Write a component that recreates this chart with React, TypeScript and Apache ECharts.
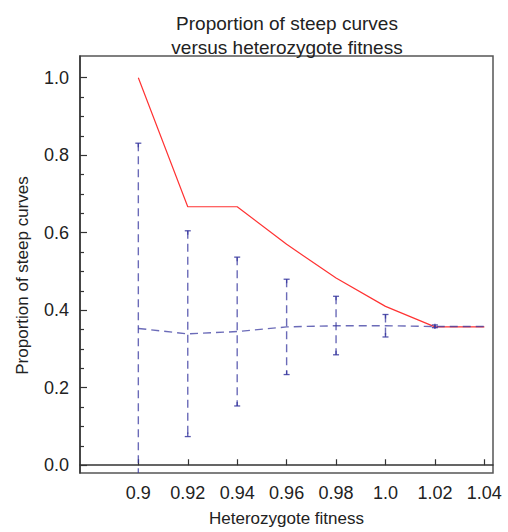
import React, { useEffect, useRef } from "react";
import * as echarts from "echarts";

const fitness = [0.9, 0.92, 0.94, 0.96, 0.98, 1.0, 1.02, 1.04];
const steepMax = [1.0, 0.667, 0.667, 0.57, 0.483, 0.41, 0.357, 0.357];
const steepMean = [0.353, 0.339, 0.345, 0.357, 0.36, 0.36, 0.358, 0.358];
const errLow = [-0.125, 0.074, 0.153, 0.234, 0.285, 0.331, 0.355];
const errHigh = [0.831, 0.605, 0.537, 0.48, 0.436, 0.389, 0.362];
const xTicks = [0.9, 0.92, 0.94, 0.96, 0.98, 1.0, 1.02, 1.04];
const xTickLabels = ["0.9", "0.92", "0.94", "0.96", "0.98", "1.0", "1.02", "1.04"];
const yTicks = [0, 0.2, 0.4, 0.6, 0.8, 1.0];
const yTickLabels = ["0.0", "0.2", "0.4", "0.6", "0.8", "1.0"];
const yMinorTicks = [0.05, 0.1, 0.15, 0.25, 0.3, 0.35, 0.45, 0.5, 0.55, 0.65, 0.7, 0.75, 0.85, 0.9, 0.95];

const FONT = "Liberation Sans";
const BLUE = "#3a3aa0";
const RED = "#ff3333";

export default function App() {
  const ref = useRef<HTMLDivElement>(null);
  useEffect(() => {
    if (!ref.current) return;
    const chart = echarts.init(ref.current, undefined, { renderer: "svg" });
    const xLabel = (v: number) => {
      const i = xTicks.findIndex((t) => Math.abs(t - v) < 1e-6);
      return i >= 0 ? xTickLabels[i] : "";
    };
    const yLabel = (v: number) => {
      const i = yTicks.findIndex((t) => Math.abs(t - v) < 1e-6);
      return i >= 0 ? yTickLabels[i] : "";
    };
    chart.setOption({
      animation: false,
      backgroundColor: "#ffffff",
      grid: {
        left: 80,
        right: 15,
        top: 56,
        bottom: 54,
        show: true,
        borderColor: "#555",
        borderWidth: 1.5,
        backgroundColor: "transparent",
      },
      graphic: [
        {
          type: "text",
          x: 287,
          y: 11,
          style: {
            text: "Proportion of steep curves\nversus heterozygote fitness",
            fontSize: 19,
            lineHeight: 24,
            fontFamily: FONT,
            fill: "#222",
            align: "center",
            verticalAlign: "top",
          },
        },
        {
          type: "text",
          x: 22,
          y: 275.5,
          rotation: Math.PI / 2,
          style: {
            text: "Proportion of steep curves",
            fontSize: 17,
            fontFamily: FONT,
            fill: "#222",
            align: "center",
            verticalAlign: "middle",
          },
        },
      ],
      xAxis: {
        type: "value",
        min: 0.8764,
        max: 1.0435,
        name: "Heterozygote fitness",
        nameLocation: "middle",
        nameGap: 37,
        nameTextStyle: { fontSize: 17, fontFamily: FONT, color: "#222" },
        axisLine: { show: true, lineStyle: { color: "#333", width: 1.5 } },
        axisTick: {
          show: true,
          inside: true,
          length: 6,
          customValues: xTicks,
          lineStyle: { color: "#333", width: 1.2 },
        },
        axisLabel: {
          customValues: xTicks,
          formatter: xLabel,
          fontSize: 18,
          fontFamily: FONT,
          color: "#222",
          margin: 11,
        },
        splitLine: { show: false },
      },
      yAxis: [
        {
          type: "value",
          min: -0.02,
          max: 1.056,
          axisLine: { show: true, lineStyle: { color: "#333", width: 1.5 } },
          axisTick: {
            show: true,
            inside: true,
            length: 7,
            customValues: yTicks,
            lineStyle: { color: "#333", width: 1.2 },
          },
          axisLabel: {
            customValues: yTicks,
            formatter: yLabel,
            fontSize: 18,
            fontFamily: FONT,
            color: "#222",
            margin: 11,
          },
          splitLine: { show: false },
        },
        {
          type: "value",
          min: -0.02,
          max: 1.056,
          position: "left",
          axisLine: { show: false },
          axisTick: {
            show: true,
            inside: true,
            length: 4,
            customValues: yMinorTicks,
            lineStyle: { color: "#333", width: 1.2 },
          },
          axisLabel: { show: false },
          splitLine: { show: false },
        },
      ],
      series: [
        {
          type: "line",
          data: fitness.map((x, i) => [x, steepMax[i]]),
          symbol: "none",
          lineStyle: { color: RED, width: 1.2 },
          z: 2,
        },
        {
          type: "line",
          data: fitness.map((x, i) => [x, steepMean[i]]),
          symbol: "none",
          lineStyle: { color: BLUE, width: 1.4, type: [8, 5], opacity: 0.75 },
          z: 3,
        },
        {
          type: "custom",
          data: errLow.map((lo, i) => [fitness[i], lo, errHigh[i]]),
          encode: { x: 0, y: [1, 2] },
          z: 4,
          renderItem: (params: any, api: any) => {
            const x = api.value(0);
            const lo = api.value(1);
            const hi = api.value(2);
            const pTop = api.coord([x, hi]);
            const pBot = api.coord([x, lo]);
            const cs = params.coordSys;
            const bottomEdge = cs.y + cs.height;
            const clippedBottom = pBot[1] > bottomEdge;
            const yb = clippedBottom ? bottomEdge : pBot[1];
            const px = pTop[0];
            const w = 3;
            const children: any[] = [
              {
                type: "line",
                shape: { x1: px, y1: pTop[1], x2: px, y2: yb },
                style: { stroke: BLUE, lineWidth: 1.4, lineDash: [8, 5], opacity: 0.75 },
              },
              {
                type: "line",
                shape: { x1: px - w, y1: pTop[1], x2: px + w, y2: pTop[1] },
                style: { stroke: BLUE, lineWidth: 1.3, opacity: 0.85 },
              },
              {
                type: "line",
                shape: { x1: px, y1: pTop[1], x2: px, y2: pTop[1] + 4 },
                style: { stroke: BLUE, lineWidth: 1.3, opacity: 0.85 },
              },
            ];
            if (!clippedBottom) {
              children.push({
                type: "line",
                shape: { x1: px - w, y1: yb, x2: px + w, y2: yb },
                style: { stroke: BLUE, lineWidth: 1.3, opacity: 0.85 },
              });
              children.push({
                type: "line",
                shape: { x1: px, y1: yb, x2: px, y2: yb - 4 },
                style: { stroke: BLUE, lineWidth: 1.3, opacity: 0.85 },
              });
            }
            return { type: "group", children };
          },
        },
      ],
    });
    return () => chart.dispose();
  }, []);
  return (
    <div
      ref={ref}
      style={{ position: "fixed", left: 0, top: 0, width: 508, height: 532 }}
    />
  );
}
